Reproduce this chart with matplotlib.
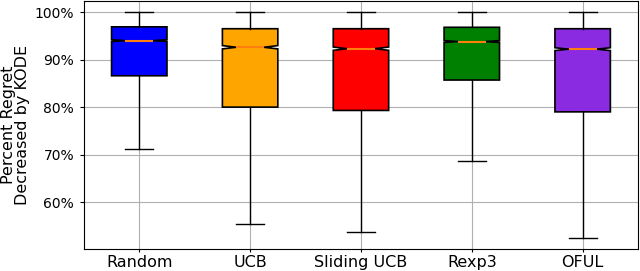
import matplotlib
matplotlib.use("Agg")
import matplotlib.pyplot as plt
from matplotlib.ticker import PercentFormatter

#%% Data
labels = ["Random", "UCB", "Sliding UCB", "Rexp3", "OFUL"]
colors = ["blue", "orange", "red", "green", "blueviolet"]
whislo = [71.2, 55.3, 53.7, 68.6, 52.5]
q1 = [86.6, 80.0, 79.3, 85.7, 79.0]
med = [94.0, 92.6, 92.3, 93.8, 92.2]
q3 = [96.9, 96.5, 96.5, 96.8, 96.5]
whishi = [100.0, 100.0, 100.0, 100.0, 100.0]
ci_half = [0.2, 0.35, 0.35, 0.2, 0.3]  # notch half-height

stats = []
for i in range(len(labels)):
    stats.append(dict(label=labels[i], whislo=whislo[i], q1=q1[i], med=med[i],
                      q3=q3[i], whishi=whishi[i], fliers=[],
                      cilo=med[i] - ci_half[i], cihi=med[i] + ci_half[i]))

#%% Plot
fig, ax = plt.subplots(figsize=(6.4, 2.71), dpi=100)
ax.grid(True, color="#b0b0b0", linewidth=0.8)
ax.set_axisbelow(True)

bp = ax.bxp(stats, shownotches=True, patch_artist=True,
            boxprops=dict(linewidth=1.2, edgecolor="black"),
            whiskerprops=dict(linewidth=1.0, color="black"),
            capprops=dict(linewidth=1.0, color="black"),
            medianprops=dict(linewidth=1.5, color="#ff7f0e"))
for patch, c in zip(bp["boxes"], colors):
    patch.set_facecolor(c)

ax.yaxis.set_major_formatter(PercentFormatter(decimals=0))
ax.set_yticks([60, 70, 80, 90, 100])
ax.tick_params(axis="y", labelsize=10, length=3, pad=4)
ax.tick_params(axis="x", labelsize=11.5, length=2.5, pad=1.5)
ax.set_ylabel("Percent Regret\nDecreased by KODE", fontsize=11.5,
              linespacing=0.95, labelpad=3)

fig.subplots_adjust(left=0.131, right=0.997, bottom=0.081, top=0.997)
fig.savefig("out.png", dpi=100)
